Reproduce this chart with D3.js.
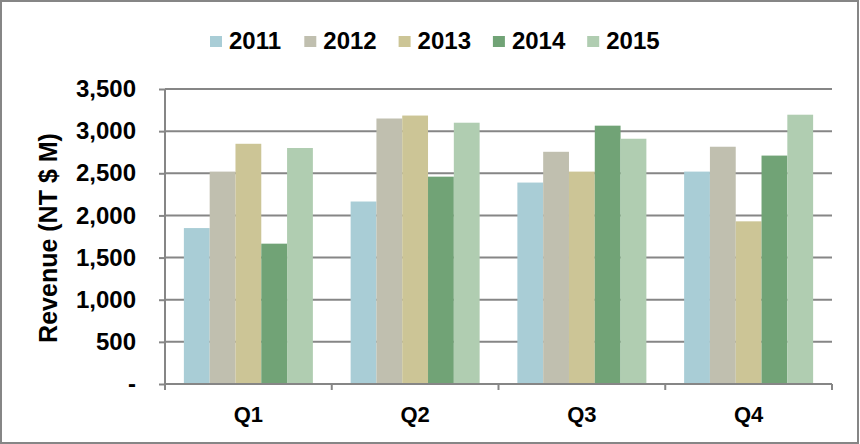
<!DOCTYPE html>
<html>
<head>
<meta charset="utf-8">
<script src="https://cdn.jsdelivr.net/npm/d3@7"></script>
<style>
  body { margin: 0; background: #fff; }
  text { font-family: "Liberation Sans", Arial, sans-serif; font-weight: bold; fill: #000; }
</style>
</head>
<body>
<div id="chart"></div>
<script>
// Chart data
const quarters = ["Q1", "Q2", "Q3", "Q4"];
const years = ["2011", "2012", "2013", "2014", "2015"];
const rev2011 = [1850, 2165, 2390, 2520];
const rev2012 = [2520, 3150, 2755, 2815];
const rev2013 = [2850, 3185, 2520, 1930];
const rev2014 = [1665, 2460, 3065, 2710];
const rev2015 = [2800, 3100, 2910, 3195];
const yTicks = [0, 500, 1000, 1500, 2000, 2500, 3000, 3500];
const colors = ["#a9cdd6", "#c0bfaf", "#ccc596", "#71a376", "#b0cdb1"];

const width = 860;
const height = 444;
const margin = {top: 89, right: 28, bottom: 60, left: 165};

const series = [rev2011, rev2012, rev2013, rev2014, rev2015];

function main() {
    const svg = d3.select("#chart").append("svg")
        .attr("width", width)
        .attr("height", height);

    // Outer frame
    svg.append("rect")
        .attr("x", 1).attr("y", 1)
        .attr("width", width - 3).attr("height", height - 2)
        .attr("fill", "#fff")
        .attr("stroke", "#868686")
        .attr("stroke-width", 2);

    const x0 = d3.scaleBand()
        .domain(quarters)
        .range([margin.left, width - margin.right])
        .paddingInner(0.2264)
        .paddingOuter(0.1132);

    const x1 = d3.scaleBand()
        .domain(years)
        .range([0, x0.bandwidth()]);

    const y = d3.scaleLinear()
        .domain([0, 3500])
        .range([height - margin.bottom, margin.top]);

    // Gridlines
    svg.append("g")
        .selectAll("line")
        .data(yTicks.slice(1))
        .join("line")
        .attr("x1", margin.left)
        .attr("x2", width - margin.right)
        .attr("y1", d => y(d))
        .attr("y2", d => y(d))
        .attr("stroke", "#868686")
        .attr("stroke-width", 2);

    // Bars
    svg.append("g")
        .selectAll("g")
        .data(quarters)
        .join("g")
        .attr("transform", d => `translate(${x0(d)},0)`)
        .selectAll("rect")
        .data((q, qi) => years.map((yr, i) => ({yr, i, v: series[i][qi]})))
        .join("rect")
        .attr("x", d => x1(d.yr))
        .attr("width", x1.bandwidth())
        .attr("y", d => y(d.v))
        .attr("height", d => y(0) - y(d.v))
        .attr("fill", d => colors[d.i]);

    // Y axis
    const yAxis = d3.axisLeft(y)
        .tickValues(yTicks)
        .tickSize(6)
        .tickPadding(23)
        .tickFormat(d => d === 0 ? "-" : d3.format(",")(d));
    const gy = svg.append("g")
        .attr("transform", `translate(${margin.left},0)`)
        .call(yAxis);
    gy.select(".domain")
        .attr("d", `M0,${y(3500)}V${y(0) + 6}`)
        .attr("stroke", "#868686")
        .attr("stroke-width", 2);
    gy.selectAll(".tick line").attr("stroke", "#868686").attr("stroke-width", 2);
    gy.attr("font-size", null).attr("font-family", null);
    gy.selectAll(".tick text")
        .attr("font-size", 24);

    // X axis
    const xEdge = d3.scaleLinear()
        .domain([0, quarters.length])
        .range([margin.left, width - margin.right]);
    const gx = svg.append("g");
    gx.append("line")
        .attr("x1", margin.left).attr("x2", width - margin.right)
        .attr("y1", y(0)).attr("y2", y(0))
        .attr("stroke", "#868686").attr("stroke-width", 2);
    gx.selectAll(".xt")
        .data(d3.range(quarters.length + 1))
        .join("line")
        .attr("class", "xt")
        .attr("x1", d => xEdge(d)).attr("x2", d => xEdge(d))
        .attr("y1", y(0)).attr("y2", y(0) + 6)
        .attr("stroke", "#868686").attr("stroke-width", 2);
    gx.selectAll("text")
        .data(quarters)
        .join("text")
        .attr("x", d => x0(d) + x0.bandwidth() / 2)
        .attr("y", 422)
        .attr("text-anchor", "middle")
        .attr("font-size", 22)
        .text(d => d);

    // Y axis title
    svg.append("text")
        .attr("transform", "translate(57,238) rotate(-90)")
        .attr("text-anchor", "middle")
        .attr("font-size", 25)
        .text("Revenue (NT $ M)");

    // Legend
    const legend = svg.append("g")
        .selectAll("g")
        .data(years)
        .join("g")
        .attr("transform", (d, i) => `translate(${210 + i * 94.3},36)`);
    legend.append("rect")
        .attr("width", 12).attr("height", 11)
        .attr("fill", (d, i) => colors[i]);
    legend.append("text")
        .attr("x", 19)
        .attr("y", 13)
        .attr("font-size", 24)
        .text(d => d);
}

main();
</script>
</body>
</html>
